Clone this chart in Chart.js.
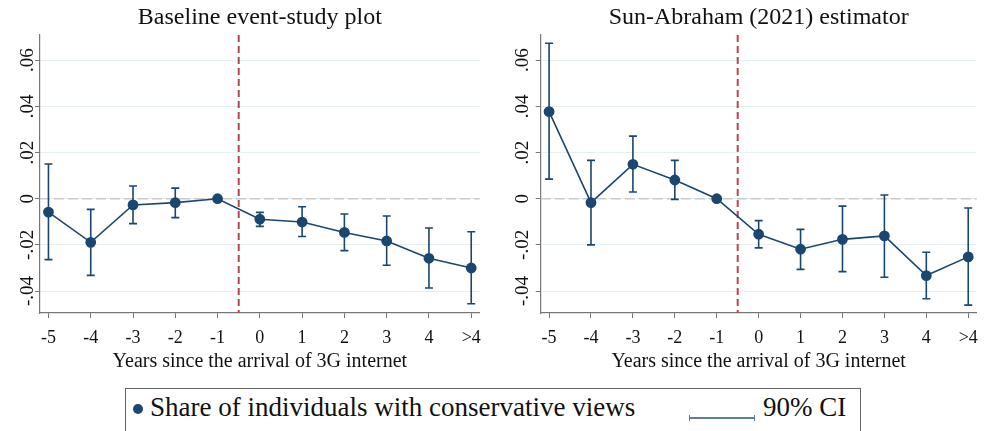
<!DOCTYPE html>
<html>
<head>
<meta charset="utf-8">
<script src="https://cdn.jsdelivr.net/npm/chart.js@4.4.1/dist/chart.umd.min.js"></script>
<style>
  html, body { margin: 0; padding: 0; background: #fff; }
  #wrap { position: relative; width: 987px; height: 431px; overflow: hidden; font-family: "Liberation Serif", "DejaVu Serif", serif; }
  .panel { position: absolute; top: 0; height: 378px; }
  #legend { position: absolute; left: 125px; top: 388px; width: 736px; height: 60px; border: 1px solid #666; box-sizing: border-box; }
  .lg-dot { position: absolute; left: 7px; top: 15px; width: 10px; height: 10px; border-radius: 50%; background: #1a476f; }
  .lg-text { position: absolute; top: 2px; font-size: 27px; color: #111; white-space: nowrap; line-height: 32px; }
  .lg-ci { position: absolute; left: 563px; top: 28px; width: 66px; height: 0; border-top: 2px solid #5b7f9f; }
  .lg-ci::before, .lg-ci::after { content: ""; position: absolute; top: -4px; width: 0; height: 6px; border-left: 1.5px solid #5b7f9f; }
  .lg-ci::before { left: 0; }
  .lg-ci::after { right: 0; }
</style>
</head>
<body>
<div id="wrap">
  <div class="panel" style="left:0; width:490px;"><canvas id="baseChart"></canvas></div>
  <div class="panel" style="left:490px; width:497px;"><canvas id="saChart"></canvas></div>
  <div id="legend">
    <div class="lg-dot"></div>
    <div class="lg-text" style="left:24px;">Share of individuals with conservative views</div>
    <div class="lg-ci"></div>
    <div class="lg-text" style="left:637px;">90% CI</div>
  </div>
</div>
<script>
// categories / ticks
const xLabels = ['-5', '-4', '-3', '-2', '-1', '0', '1', '2', '3', '4', '>4'];
const yTicks = [-0.04, -0.02, 0, 0.02, 0.04, 0.06];
const eventLine = 4.5; // between -1 and 0

// Baseline event-study plot
const baseEst = [-0.0058, -0.0189, -0.0027, -0.0017, 0, -0.0089, -0.0101, -0.0146, -0.0183, -0.0258, -0.0300];
const baseLo = [-0.0264, -0.0332, -0.0108, -0.0082, null, -0.0120, -0.0164, -0.0225, -0.0288, -0.0387, -0.0455];
const baseHi = [0.0150, -0.0046, 0.0055, 0.0046, null, -0.0059, -0.0035, -0.0066, -0.0075, -0.0127, -0.0143];

// Sun-Abraham (2021) estimator
const saEst = [0.0377, -0.0017, 0.0149, 0.0081, 0, -0.0154, -0.0219, -0.0176, -0.0161, -0.0333, -0.0252];
const saLo = [0.0085, -0.0200, 0.0029, -0.0003, null, -0.0213, -0.0306, -0.0316, -0.0340, -0.0433, -0.0461];
const saHi = [0.0673, 0.0166, 0.0271, 0.0166, null, -0.0095, -0.0133, -0.0032, 0.0016, -0.0232, -0.0040];

const navy = '#1a476f';
Chart.defaults.font.family = "'Liberation Serif', 'DejaVu Serif', serif";
Chart.defaults.color = '#111';

function fmtY(v) {
    if (Math.abs(v) < 1e-9) return '0';
    return (v < 0 ? '-' : '') + Math.abs(v).toFixed(2).replace(/^0/, '');
}

// reference lines + confidence intervals, drawn under the points
const errorBars = {
    id: 'errorBars',
    beforeDatasetsDraw(chart, args, opts) {
        const { ctx, chartArea, scales: { x, y } } = chart;
        ctx.save();

        // dashed zero line
        const y0 = y.getPixelForValue(0);
        ctx.strokeStyle = '#c9c9c9';
        ctx.lineWidth = 1.5;
        ctx.setLineDash([10, 4]);
        ctx.beginPath();
        ctx.moveTo(chartArea.left, y0);
        ctx.lineTo(chartArea.right, y0);
        ctx.stroke();

        // treatment line
        const xe = x.getPixelForValue(eventLine);
        ctx.strokeStyle = '#b4474f';
        ctx.lineWidth = 2;
        ctx.setLineDash([7, 4]);
        ctx.beginPath();
        ctx.moveTo(xe, chartArea.top);
        ctx.lineTo(xe, chartArea.bottom);
        ctx.stroke();

        // CIs
        ctx.setLineDash([]);
        ctx.strokeStyle = navy;
        ctx.lineWidth = 1.6;
        opts.lo.forEach((lo, i) => {
            const hi = opts.hi[i];
            if (lo === null || hi === null) return;
            const px = x.getPixelForValue(i);
            const pLo = y.getPixelForValue(lo);
            const pHi = y.getPixelForValue(hi);
            ctx.beginPath();
            ctx.moveTo(px, pLo); ctx.lineTo(px, pHi);
            ctx.moveTo(px - 4, pLo); ctx.lineTo(px + 4, pLo);
            ctx.moveTo(px - 4, pHi); ctx.lineTo(px + 4, pHi);
            ctx.stroke();
        });
        ctx.restore();
    }
};

function makeChart(id, title, est, lo, hi, axisWidth, padRight, labelPad) {
    const ctx = document.getElementById(id).getContext('2d');
    return new Chart(ctx, {
        type: 'line',
        data: {
            datasets: [{
                data: est.map((v, i) => ({ x: i, y: v })),
                borderColor: navy,
                backgroundColor: navy,
                borderWidth: 1.6,
                pointRadius: 4.6,
                pointBackgroundColor: navy,
                pointBorderColor: navy,
                tension: 0
            }]
        },
        options: {
            responsive: true,
            maintainAspectRatio: false,
            animation: false,
            layout: { padding: { left: 0, right: padRight, top: 0, bottom: 0 } },
            plugins: {
                legend: { display: false },
                tooltip: { enabled: false },
                title: {
                    display: true,
                    text: title,
                    fullSize: false,
                    color: '#111',
                    font: { size: 24, weight: 'normal' },
                    padding: { top: 3.6, bottom: 2.6 }
                },
                errorBars: { lo: lo, hi: hi }
            },
            scales: {
                x: {
                    type: 'linear',
                    min: -0.2,
                    max: 10.2,
                    afterBuildTicks: s => { s.ticks = xLabels.map((_, i) => ({ value: i })); },
                    afterFit: s => { s.height = 65; },
                    ticks: {
                        autoSkip: false,
                        maxRotation: 0,
                        padding: 9,
                        color: '#111',
                        font: { size: 18 },
                        callback: v => xLabels[Math.round(v)]
                    },
                    grid: { drawOnChartArea: false, drawTicks: true, tickLength: 5, tickColor: '#777' },
                    border: { color: '#777', width: 1.2 },
                    title: {
                        display: true,
                        text: 'Years since the arrival of 3G internet',
                        color: '#111',
                        font: { size: 20 },
                        padding: { top: 0, bottom: 4 }
                    }
                },
                y: {
                    min: -0.0495,
                    max: 0.0709,
                    afterBuildTicks: s => { s.ticks = yTicks.map(v => ({ value: v })); },
                    afterFit: s => { s.width = axisWidth; },
                    ticks: {
                        minRotation: 90,
                        maxRotation: 90,
                        crossAlign: 'center',
                        padding: labelPad,
                        color: '#111',
                        font: { size: 19 },
                        callback: v => fmtY(v)
                    },
                    grid: { color: '#e6eff1', lineWidth: 1, drawTicks: true, tickLength: 5, tickColor: '#777' },
                    border: { color: '#777', width: 1.2 }
                }
            }
        },
        plugins: [errorBars]
    });
}

makeChart('baseChart', 'Baseline event-study plot', baseEst, baseLo, baseHi, 40, 10, -8);
makeChart('saChart', 'Sun-Abraham (2021) estimator', saEst, saLo, saHi, 50.7, 5.3, -2.3);
</script>
</body>
</html>
